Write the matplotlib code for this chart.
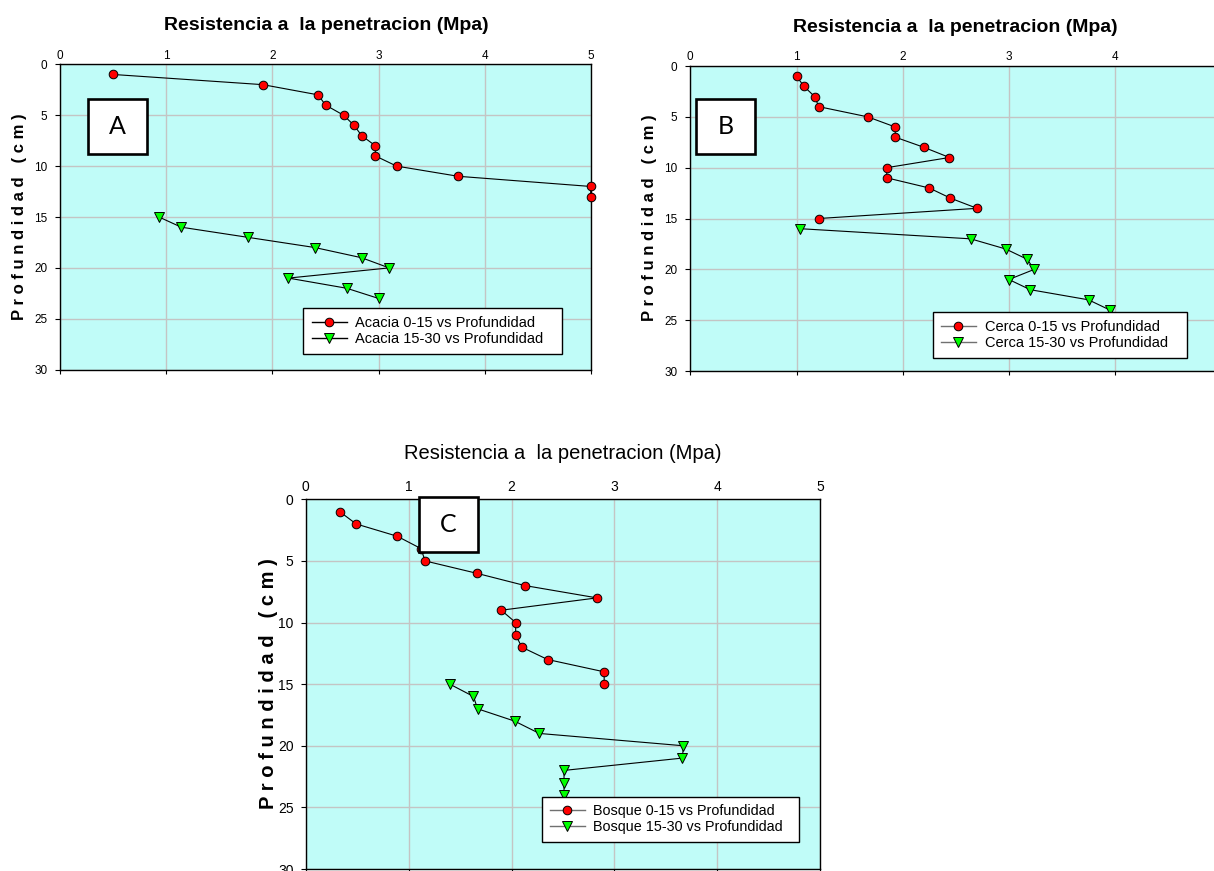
import matplotlib
matplotlib.use("Agg")
import matplotlib.pyplot as plt
from matplotlib.patches import Rectangle
from matplotlib.lines import Line2D

plt.rcParams["font.family"] = ["Liberation Sans", "DejaVu Sans"]

# ---- data: penetration resistance (MPa) against depth (cm) ----
depth_acacia_0_15 = [1, 2, 3, 4, 5, 6, 7, 8, 9, 10, 11, 12, 13]
acacia_0_15 = [0.50, 1.91, 2.43, 2.50, 2.67, 2.77, 2.84, 2.97, 2.97, 3.17, 3.75, 5.00, 5.00]
depth_acacia_15_30 = [15, 16, 17, 18, 19, 20, 21, 22, 23]
acacia_15_30 = [0.93, 1.14, 1.77, 2.40, 2.84, 3.10, 2.15, 2.70, 3.00]

depth_cerca_0_15 = [1, 2, 3, 4, 5, 6, 7, 8, 9, 10, 11, 12, 13, 14, 15]
cerca_0_15 = [1.00, 1.07, 1.17, 1.21, 1.67, 1.93, 1.93, 2.20, 2.44, 1.85, 1.85, 2.25, 2.45, 2.70, 1.21]
depth_cerca_15_30 = [16, 17, 18, 19, 20, 21, 22, 23, 24]
cerca_15_30 = [1.03, 2.64, 2.97, 3.17, 3.24, 3.00, 3.20, 3.75, 3.95]

depth_bosque_0_15 = [1, 2, 3, 4, 5, 6, 7, 8, 9, 10, 11, 12, 13, 14, 15]
bosque_0_15 = [0.33, 0.49, 0.89, 1.12, 1.16, 1.66, 2.13, 2.83, 1.90, 2.04, 2.04, 2.10, 2.35, 2.90, 2.90]
depth_bosque_15_30 = [15, 16, 17, 18, 19, 20, 21, 22, 23, 24]
bosque_15_30 = [1.40, 1.63, 1.67, 2.03, 2.27, 3.67, 3.66, 2.51, 2.51, 2.51]

x_ticks = [0, 1, 2, 3, 4, 5]
y_ticks = [0, 5, 10, 15, 20, 25, 30]
x_title = "Resistencia a  la penetracion (Mpa)"
y_title = "P r o f u n d i d a d   ( c m )"

W, H = 1214, 871
fig = plt.figure(figsize=(W / 100, H / 100), dpi=100)
fig.patch.set_facecolor("white")

BG = "#C0FCF8"
GRID = "#C4C4C4"


def px_axes(left, bottom, width, height):
    return fig.add_axes([left / W, 1 - bottom / H, width / W, height / H])


def panel(ax, x1, y1, x2, y2, name1, name2, tick_fs, xpad, ypad,
          leg_box, leg_fs, leg_line, box, letter, xlabels):
    ax.set_facecolor(BG)
    ax.set_xlim(0, 5)
    ax.set_ylim(30, 0)
    ax.set_xticks(x_ticks)
    ax.set_yticks(y_ticks)
    ax.set_xticklabels(xlabels, fontsize=tick_fs)
    ax.set_yticklabels([str(v) for v in y_ticks], fontsize=tick_fs)
    ax.grid(True, color=GRID, linewidth=1.0)
    ax.set_axisbelow(True)
    ax.tick_params(axis="x", top=False, bottom=True, labeltop=True,
                   labelbottom=False, direction="out", length=3, width=0.8,
                   pad=xpad)
    ax.tick_params(axis="y", left=True, direction="out", length=3.8,
                   width=0.8, pad=ypad)
    for s in ax.spines.values():
        s.set_color("black")
        s.set_linewidth(1.0)

    ax.plot(x1, y1, color="black", linewidth=0.8, marker="o", markersize=6.2,
            markerfacecolor="#FF0000", markeredgecolor="black",
            markeredgewidth=0.7, clip_on=False, zorder=3, label=name1)
    ax.plot(x2, y2, color="black", linewidth=0.8, marker="v", markersize=6.8,
            markerfacecolor="#00FF00", markeredgecolor="black",
            markeredgewidth=0.7, clip_on=False, zorder=3, label=name2)

    handles = [
        Line2D([], [], color=leg_line, linewidth=1.0, marker="o", markersize=6.2,
               markerfacecolor="#FF0000", markeredgecolor="black",
               markeredgewidth=0.7),
        Line2D([], [], color=leg_line, linewidth=1.0, marker="v", markersize=6.8,
               markerfacecolor="#00FF00", markeredgecolor="black",
               markeredgewidth=0.7),
    ]
    lx, ltop, lw = leg_box
    leg = ax.legend(handles, [name1, name2], loc="upper left",
                    bbox_to_anchor=(lx, ltop - 0.05, lw, 0.05), mode="expand",
                    borderaxespad=0, fontsize=leg_fs, frameon=True,
                    fancybox=False, framealpha=1, edgecolor="black",
                    borderpad=0.55, labelspacing=0.12, handlelength=2.4,
                    handletextpad=0.6)
    leg.get_frame().set_linewidth(1.0)
    leg.set_zorder(10)

    bx0, bx1, by0, by1 = box
    ax.add_patch(Rectangle((bx0, by0), bx1 - bx0, by1 - by0, facecolor="white",
                           edgecolor="black", linewidth=1.9, clip_on=False,
                           zorder=8))
    ax.text((bx0 + bx1) / 2, (by0 + by1) / 2, letter, ha="center",
            va="center", fontsize=18, family=["Lato", "DejaVu Sans"],
            zorder=9)


all_labels = [str(v) for v in x_ticks]

# Panel A
axA = px_axes(60.3, 369.7, 530.4, 305.4)
panel(axA, acacia_0_15, depth_acacia_0_15, acacia_15_30, depth_acacia_15_30,
      "Acacia 0-15 vs Profundidad", "Acacia 15-30 vs Profundidad",
      8.5, -1.0, 5.5, (0.4585, 0.202, 0.4875), 10.5, "black",
      (0.26, 0.818, 3.44, 8.81), "A", all_labels)
fig.text(326 / W, 1 - 25 / H, x_title, ha="center", va="center",
         fontsize=14, fontweight="bold")
fig.text(20 / W, 1 - 217 / H, y_title, ha="center", va="center",
         rotation=90, fontsize=12, fontweight="bold")

# Panel B (its right edge runs past the page, so the last label is not shown)
axB = px_axes(690.3, 371, 531, 305)
panel(axB, cerca_0_15, depth_cerca_0_15, cerca_15_30, depth_cerca_15_30,
      "Cerca 0-15 vs Profundidad", "Cerca 15-30 vs Profundidad",
      8.5, -1.0, 5.5, (0.457, 0.193, 0.478), 10.5, "#707070",
      (0.05, 0.612, 3.27, 8.65), "B", all_labels[:-1] + [""])
fig.text(955 / W, 1 - 27 / H, x_title, ha="center", va="center",
         fontsize=14, fontweight="bold")
fig.text(650 / W, 1 - 218 / H, y_title, ha="center", va="center",
         rotation=90, fontsize=12, fontweight="bold")

# Panel C
axC = px_axes(305.7, 869, 514.6, 369.7)
panel(axC, bosque_0_15, depth_bosque_0_15, bosque_15_30, depth_bosque_15_30,
      "Bosque 0-15 vs Profundidad", "Bosque 15-30 vs Profundidad",
      10, 0.5, 5, (0.459, 0.196, 0.4996), 10.4, "#707070",
      (1.096, 1.675, -0.21, 4.25), "C", all_labels)
fig.text(563 / W, 1 - 453 / H, x_title, ha="center", va="center",
         fontsize=14.5)
fig.text(268 / W, 1 - 684 / H, y_title, ha="center", va="center",
         rotation=90, fontsize=14.5, fontweight="bold")

fig.savefig("out.png", dpi=100, facecolor="white")
